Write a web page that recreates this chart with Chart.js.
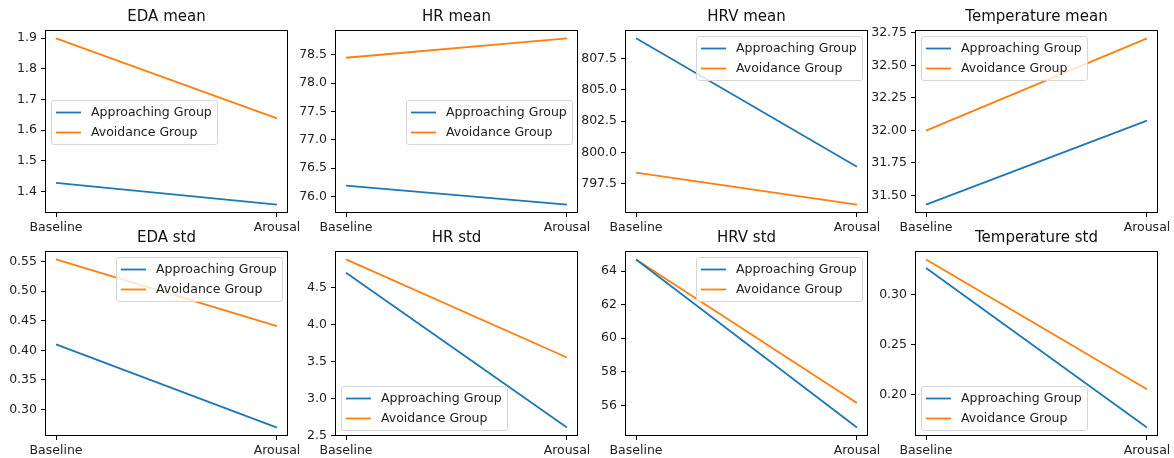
<!DOCTYPE html>
<html>
<head>
<meta charset="utf-8">
<script src="https://cdn.jsdelivr.net/npm/chart.js@4"></script>
<style>
  html, body { margin: 0; padding: 0; background: #fff; }
  #wrap { position: relative; width: 1174px; height: 458px; overflow: hidden; }
  #wrap canvas { position: absolute; }
</style>
</head>
<body>
<div id="wrap"></div>
<script>
const phases = ['Baseline', 'Arousal'];
const groups = ['Approaching Group', 'Avoidance Group'];

// group means / stds
const edaMeanApproach = [1.428, 1.357];
const edaMeanAvoid = [1.899, 1.638];
const hrMeanApproach = [76.19, 75.855];
const hrMeanAvoid = [78.447, 78.79];
const hrvMeanApproach = [809.12, 798.85];
const hrvMeanAvoid = [798.37, 795.81];
const tempMeanApproach = [31.429, 32.075];
const tempMeanAvoid = [31.998, 32.707];
const edaStdApproach = [0.410, 0.2695];
const edaStdAvoid = [0.5534, 0.4406];
const hrStdApproach = [4.697, 2.608];
const hrStdAvoid = [4.878, 3.554];
const hrvStdApproach = [64.70, 54.67];
const hrvStdAvoid = [64.70, 56.14];
const tempStdApproach = [0.3268, 0.1673];
const tempStdAvoid = [0.3354, 0.2057];

// y tick labels per panel
const edaMeanTicks = ['1.4', '1.5', '1.6', '1.7', '1.8', '1.9'];
const hrMeanTicks = ['76.0', '76.5', '77.0', '77.5', '78.0', '78.5'];
const hrvMeanTicks = ['797.5', '800.0', '802.5', '805.0', '807.5'];
const tempMeanTicks = ['31.50', '31.75', '32.00', '32.25', '32.50', '32.75'];
const edaStdTicks = ['0.30', '0.35', '0.40', '0.45', '0.50', '0.55'];
const hrStdTicks = ['2.5', '3.0', '3.5', '4.0', '4.5'];
const hrvStdTicks = ['56', '58', '60', '62', '64'];
const tempStdTicks = ['0.20', '0.25', '0.30'];

const panels = [
  { title: 'EDA mean', a: edaMeanApproach, b: edaMeanAvoid, ticks: edaMeanTicks, legend: 'center left' },
  { title: 'HR mean', a: hrMeanApproach, b: hrMeanAvoid, ticks: hrMeanTicks, legend: 'center right' },
  { title: 'HRV mean', a: hrvMeanApproach, b: hrvMeanAvoid, ticks: hrvMeanTicks, legend: 'upper right' },
  { title: 'Temperature mean', a: tempMeanApproach, b: tempMeanAvoid, ticks: tempMeanTicks, legend: 'upper left' },
  { title: 'EDA std', a: edaStdApproach, b: edaStdAvoid, ticks: edaStdTicks, legend: 'upper right' },
  { title: 'HR std', a: hrStdApproach, b: hrStdAvoid, ticks: hrStdTicks, legend: 'lower left' },
  { title: 'HRV std', a: hrvStdApproach, b: hrvStdAvoid, ticks: hrvStdTicks, legend: 'upper right' },
  { title: 'Temperature std', a: tempStdApproach, b: tempStdAvoid, ticks: tempStdTicks, legend: 'lower left' }
];

const colors = ['#1f77b4', '#ff7f0e'];
const fontSize = 12.5;

// layout of the axes frames (px)
const colLeft = [45, 335, 625, 915];
const rowTop = [30, 251];
const frameW = 243;
const frameH = [183, 185];
const yAxisW = 45;
const titleH = 22;
const xAxisH = 24;
const rightPad = 16;

Chart.defaults.font.family = '"DejaVu Sans", sans-serif';
Chart.defaults.font.size = fontSize;
Chart.defaults.color = '#222';

// axes frame + matplotlib-style legend inside the plot area
const framePlugin = {
  id: 'frameAndLegend',
  afterDatasetsDraw(chart, args, opts) {
    const { ctx, chartArea: ar } = chart;
    ctx.save();
    ctx.strokeStyle = '#000';
    ctx.lineWidth = 1;
    ctx.strokeRect(Math.round(ar.left) + 0.5, Math.round(ar.top) + 0.5,
      Math.round(ar.right - ar.left) - 1, Math.round(ar.bottom - ar.top) - 1);

    ctx.font = fontSize + 'px "DejaVu Sans"';
    const items = chart.data.datasets;
    const tw = Math.max(...items.map(d => ctx.measureText(d.label).width));
    const pad = 5, handle = 25, gap = 10, rowH = 14, spacing = 6, m = 6;
    const w = pad * 2 + handle + gap + tw;
    const h = pad * 2 + rowH * items.length + spacing * (items.length - 1);
    const loc = opts.loc || 'upper right';
    let x = loc.includes('left') ? ar.left + m : ar.right - m - w;
    let y;
    if (loc.includes('upper')) y = ar.top + m;
    else if (loc.includes('lower')) y = ar.bottom - m - h;
    else y = (ar.top + ar.bottom - h) / 2;
    x = Math.round(x); y = Math.round(y);

    ctx.beginPath();
    ctx.roundRect(x + 0.5, y + 0.5, Math.round(w), h, 2.5);
    ctx.fillStyle = 'rgba(255,255,255,0.8)';
    ctx.fill();
    ctx.strokeStyle = '#d6d6d6';
    ctx.stroke();

    items.forEach((d, i) => {
      const cy = y + pad + rowH / 2 + i * (rowH + spacing) + 0.5;
      ctx.beginPath();
      ctx.moveTo(x + pad, cy);
      ctx.lineTo(x + pad + handle, cy);
      ctx.strokeStyle = d.borderColor;
      ctx.lineWidth = 1.8;
      ctx.stroke();
      ctx.fillStyle = '#222';
      ctx.textBaseline = 'middle';
      ctx.textAlign = 'left';
      ctx.fillText(d.label, x + pad + handle + gap, cy);
    });
    ctx.restore();
  }
};

const wrap = document.getElementById('wrap');

panels.forEach((p, idx) => {
  const col = idx % 4, row = Math.floor(idx / 4);
  const canvas = document.createElement('canvas');
  const cw = yAxisW + frameW + rightPad;
  const chh = titleH + frameH[row] + xAxisH;
  canvas.width = cw;
  canvas.height = chh;
  canvas.style.left = (colLeft[col] - yAxisW) + 'px';
  canvas.style.top = (rowTop[row] - titleH) + 'px';
  canvas.style.width = cw + 'px';
  canvas.style.height = chh + 'px';
  wrap.appendChild(canvas);

  // matplotlib-like 5% margins around the data
  const all = p.a.concat(p.b);
  const lo = Math.min(...all), hi = Math.max(...all);
  const span = hi - lo;
  const yMin = lo - 0.05 * span, yMax = hi + 0.05 * span;

  new Chart(canvas, {
    type: 'line',
    data: {
      datasets: [p.a, p.b].map((vals, k) => ({
        label: groups[k],
        data: vals.map((v, i) => ({ x: i, y: v })),
        borderColor: colors[k],
        backgroundColor: colors[k],
        borderWidth: 1.8,
        pointRadius: 0,
        tension: 0,
        fill: false
      }))
    },
    options: {
      responsive: false,
      animation: false,
      devicePixelRatio: 1,
      layout: { padding: { left: 0, right: rightPad, top: 0, bottom: 0 } },
      plugins: {
        legend: { display: false },
        tooltip: { enabled: false },
        title: {
          display: true,
          fullSize: false,
          text: p.title,
          color: '#111',
          font: { size: 15, weight: 'normal' },
          padding: { top: 0, bottom: 4 }
        },
        frameAndLegend: { loc: p.legend }
      },
      scales: {
        x: {
          type: 'linear',
          min: -0.05,
          max: 1.05,
          afterBuildTicks: s => { s.ticks = phases.map((c, i) => ({ value: i })); },
          afterFit: s => { s.height = xAxisH; },
          ticks: {
            autoSkip: false,
            maxRotation: 0,
            padding: 3,
            callback: v => phases[v]
          },
          grid: { drawOnChartArea: false, drawTicks: true, tickLength: 4, color: '#000', tickWidth: 1 },
          border: { display: false }
        },
        y: {
          min: yMin,
          max: yMax,
          afterBuildTicks: s => {
            s.ticks = p.ticks.map(t => ({ value: parseFloat(t) }))
              .filter(t => t.value >= yMin && t.value <= yMax);
          },
          afterFit: s => { s.width = yAxisW; },
          ticks: {
            autoSkip: false,
            padding: 4,
            callback: v => p.ticks.find(t => Math.abs(parseFloat(t) - v) < 1e-9)
          },
          grid: { drawOnChartArea: false, drawTicks: true, tickLength: 4, color: '#000', tickWidth: 1 },
          border: { display: false }
        }
      }
    },
    plugins: [framePlugin]
  });
});
</script>
</body>
</html>
